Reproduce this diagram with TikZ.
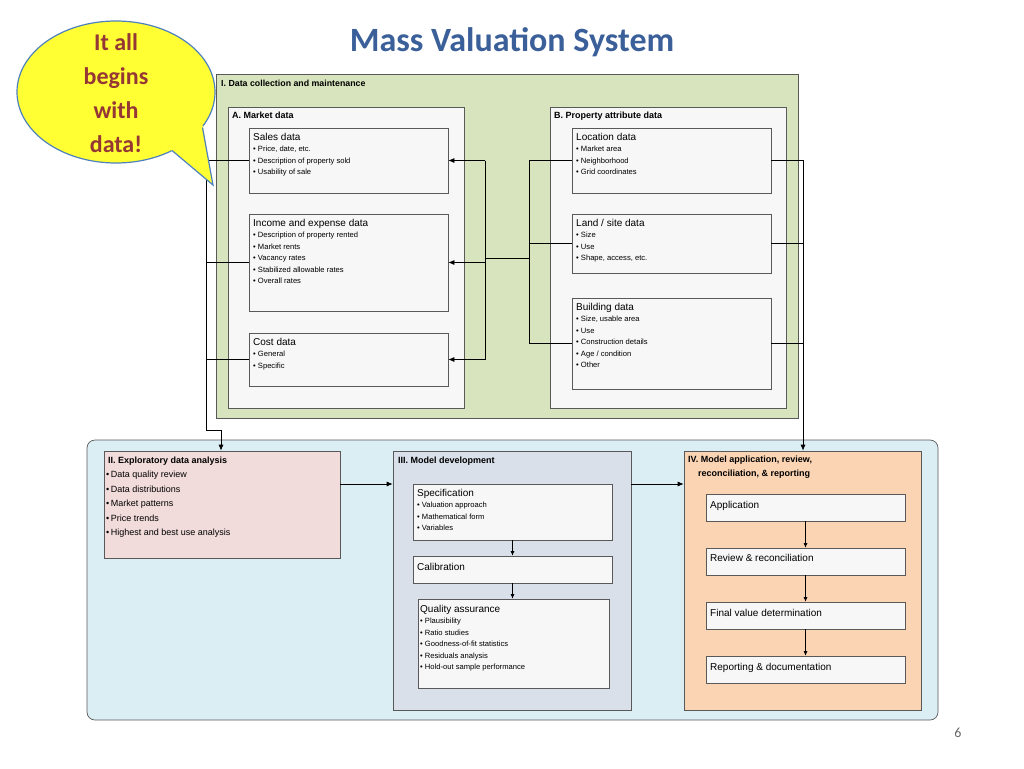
\documentclass[tikz,border=0pt]{standalone}
\usepackage{fontspec}
\setmainfont{Liberation Sans}
\newfontfamily\calib{Carlito}
\usetikzlibrary{fit,arrows.meta,shapes.geometric}
\definecolor{grn}{HTML}{D7E4BD}
\definecolor{blu}{HTML}{DBEEF3}
\definecolor{pnk}{HTML}{F2DCDB}
\definecolor{gbl}{HTML}{D9E0EA}
\definecolor{pch}{HTML}{FBD4B4}
\definecolor{ttl}{HTML}{3A5F99}
\definecolor{brn}{HTML}{953735}
\definecolor{yel}{HTML}{FFFF33}
\definecolor{edge}{HTML}{4F81BD}
\tikzset{
  panel/.style={draw=black!65, line width=0.7pt, inner sep=0pt},
  wbox/.style={panel, fill=white!97!black},
  head/.style={anchor=north west, inner sep=0pt, align=left},
  txt/.style={anchor=north west, inner sep=0pt, font=\fontsize{10}{11.5}\selectfont, align=left},
  arr/.style={-{Latex[length=6pt,width=5pt]}, line width=0.7pt},
  ln/.style={line width=0.7pt},
  sarr/.style={-{Latex[length=4.5pt,width=4pt]}, line width=0.6pt}
}
\newcommand{\bu}{\fontsize{7.6}{11.4}\selectfont\textbullet\ }
\begin{document}
\begin{tikzpicture}[x=1pt,y=-1pt]
\useasboundingbox (0,0) rectangle (1024,768);
% title
\node[font=\calib\fontsize{34}{36}\selectfont\bfseries, text=ttl] (title) at (512,42) {Mass Valuation System};
\node[font=\calib\fontsize{14}{16}\selectfont, text=black!60] (pg) at (958,733) {6};
% panel I
\node[panel, fill=grn, fit={(216,74)(798,418)}] (p1) {};
\node[head, font=\fontsize{8.8}{10}\selectfont\bfseries] (p1t) at (221,80) {I. Data collection and maintenance};
\node[wbox, fit={(228,107)(464,408)}] (pA) {};
\node[head, font=\fontsize{9}{10}\selectfont\bfseries] (pAt) at (232,112) {A. Market data};
\node[wbox, fit={(550,107)(786,408)}] (pB) {};
\node[head, font=\fontsize{9}{10}\selectfont\bfseries] (pBt) at (554,112) {B. Property attribute data};
\node[wbox, fit={(249,128)(448,193)}] (sales) {};
\node[txt] at (253,133) {Sales data\\\bu Price, date, etc.\\\bu Description of property  sold\\\bu Usability of sale};
\node[wbox, fit={(249,214)(448,311)}] (inc) {};
\node[txt] at (253,219) {Income and expense data\\\bu Description of property rented\\\bu Market rents\\\bu Vacancy rates\\\bu Stabilized allowable rates\\\bu Overall rates};
\node[wbox, fit={(249,333)(448,386)}] (cost) {};
\node[txt] at (253,338) {Cost data\\\bu General\\\bu Specific};
\node[wbox, fit={(572,128)(771,193)}] (loc) {};
\node[txt] at (576,133) {Location data\\\bu Market area\\\bu Neighborhood\\\bu Grid coordinates};
\node[wbox, fit={(572,214)(771,273)}] (land) {};
\node[txt] at (576,219) {Land / site data\\\bu Size\\\bu Use\\\bu Shape, access, etc.};
\node[wbox, fit={(572,298)(771,389)}] (bld) {};
\node[txt] at (576,303) {Building data\\\bu Size, usable area\\\bu Use\\\bu Construction details\\\bu Age / condition\\\bu Other};
% connectors in panel I
\coordinate (jA1) at (485,160.5);
\coordinate (jA3) at (485,359.5);
\coordinate (jA) at (485,258);
\coordinate (jB) at (529,258);
\coordinate (jB1) at (529,160.5);
\coordinate (jB3) at (529,343.5);
\draw[ln] (jA1) -- (jA3);
\draw[ln] (jB1) -- (jB3);
\draw[ln] (jA) -- (jB);
\draw[arr] (jA1) -- (sales.east);
\draw[arr] (jA |- inc.east) -- (inc.east);
\draw[arr] (jA3) -- (cost.east);
\draw[ln] (loc.west) -- (jB1);
\draw[ln] (land.west) -- (jB |- land.west);
\draw[ln] (bld.west) -- (jB3);
% bottom panel
\node[panel, fill=blu, rounded corners=8pt, fit={(87,440)(938,720)}] (p0) {};
\node[panel, fill=pnk, fit={(104,451)(340,558)}] (eda) {};
\node[head, font=\fontsize{9}{10}\selectfont\bfseries] at (108,457) {II. Exploratory data analysis};
\node[txt, font=\fontsize{9}{14.5}\selectfont] at (106,471) {\textbullet\,Data quality review\\\textbullet\,Data distributions\\\textbullet\,Market patterns\\\textbullet\,Price trends\\\textbullet\,Highest and best use analysis};
\node[panel, fill=gbl, fit={(393,451)(631,710)}] (md) {};
\node[head, font=\fontsize{9}{10}\selectfont\bfseries] at (398,457) {III. Model development};
\node[wbox, fit={(413,484)(612,540)}] (spec) {};
\node[txt] at (417,489) {Specification\\\bu Valuation approach\\\bu Mathematical form\\\bu Variables};
\node[wbox, fit={(413,556)(612,583)}] (cal) {};
\node[txt] at (417,563) {Calibration};
\node[wbox, fit={(418,599)(609,688)}] (qa) {};
\node[txt] at (420,605) {Quality assurance\\\bu Plausibility\\\bu Ratio studies\\\bu Goodness-of-fit statistics\\\bu Residuals analysis\\\bu Hold-out sample performance};
\node[panel, fill=pch, fit={(684,451)(921,710)}] (ma) {};
\node[head, font=\fontsize{9}{14}\selectfont\bfseries] at (688,456) {IV. Model application, review,\\\hspace*{10pt}reconciliation, \& reporting};
\node[wbox, fit={(706,494)(905,521)}] (app) {};
\node[txt] at (710,501) {Application};
\node[wbox, fit={(706,548)(905,575)}] (rev) {};
\node[txt] at (710,554) {Review \& reconciliation};
\node[wbox, fit={(706,602)(905,629)}] (fin) {};
\node[txt] at (710,609) {Final value determination};
\node[wbox, fit={(706,656)(905,683)}] (rep) {};
\node[txt] at (710,663) {Reporting \& documentation};
% flows
\coordinate (fy) at (0,484);
\draw[arr] (eda.east |- fy) -- (md.west |- fy);
\draw[arr] (md.east |- fy) -- (ma.west |- fy);
\draw[sarr] (spec) -- (cal);
\draw[sarr] (cal) -- (cal.south |- qa.north);
\draw[sarr] (app) -- (rev);
\draw[sarr] (rev) -- (fin);
\draw[sarr] (fin) -- (rep);
% left and right feeders
\coordinate (L) at (206,430);
\coordinate (Lt) at (221,430);
\coordinate (R) at (803,160.5);
\draw[ln] (inc.west) -- (L |- inc.west);
\draw[ln] (cost.west) -- (L |- cost.west);
\draw[arr] (sales.west) -| (L) -- (Lt) -- (Lt |- eda.north);
\draw[ln] (land.east) -- (R |- land.east);
\draw[ln] (bld.east) -- (R |- bld.east);
\draw[arr] (loc.east) -- (R) -- (R |- ma.north);
% callout
\fill[yel] (190,120) -- (202,127.5) -- (213,185) -- (173,150) -- (165,140) -- cycle;
\node[draw=edge, line width=1.2pt, fill=yel, ellipse, minimum width=198pt, minimum height=142pt, inner sep=0pt] (call) at (116,92) {};
\fill[yel] (188,118) -- (203,126) -- (211,180) -- (172,151) -- (163,138) -- cycle;
\draw[edge, line width=1.2pt, line join=miter] (202.5,127.5) -- (213,185) -- (172,150.5);
\node[font=\calib\fontsize{24}{34}\selectfont\bfseries, text=brn, align=center] (ct) at (116,93) {It all\\begins\\with\\data!};
\end{tikzpicture}
\end{document}
